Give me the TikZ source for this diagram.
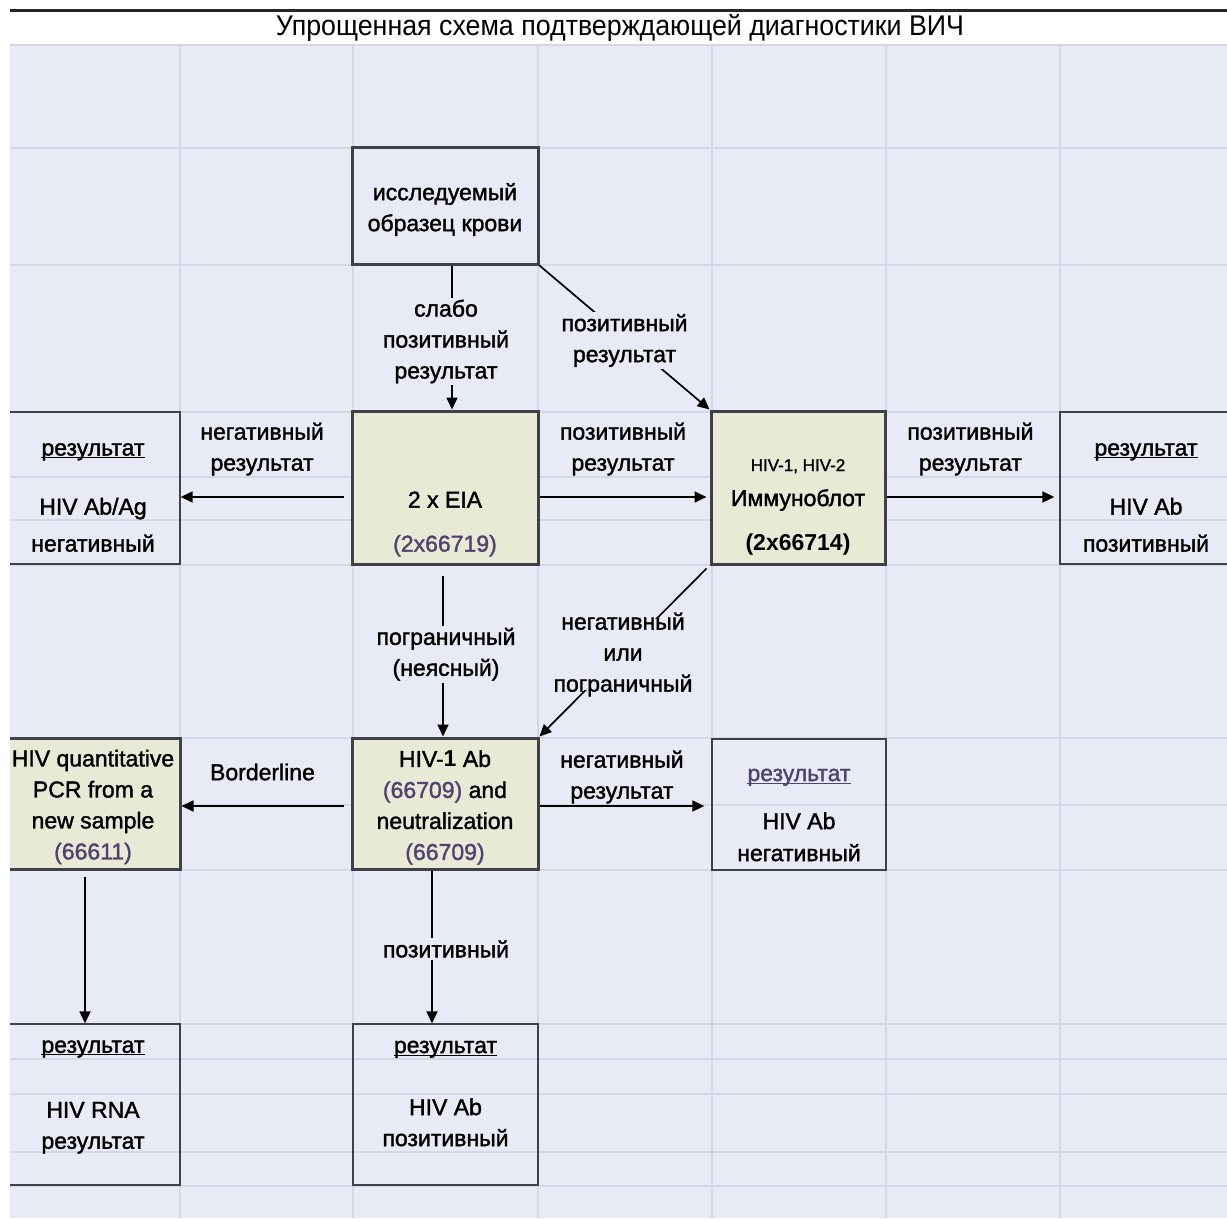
\documentclass[tikz,border=0pt]{standalone}
\usepackage{fontspec}
\setmainfont{Liberation Sans}[UprightFeatures={FakeBold=1.5}]
\newfontfamily\titlefont{Liberation Sans}[FakeStretch=0.94]
\usetikzlibrary{arrows.meta}

\definecolor{sheet}{RGB}{232,234,245}
\definecolor{gridc}{RGB}{211,216,232}
\definecolor{cream}{RGB}{233,234,213}
\definecolor{edge}{RGB}{64,64,72}
\definecolor{numc}{RGB}{82,66,112}

% underline that sits through the descenders, as the sheet draws it
\newcommand{\ulword}[1]{\leavevmode\setbox0=\hbox{#1}\rlap{\rule[-2.6pt]{\wd0}{1.1pt}}\box0}

\begin{document}
\begin{tikzpicture}[
  x=1pt, y=-1pt,
  every node/.style = {font=\fontsize{23}{31}\selectfont},
  start/.style      = {draw=edge, line width=3pt, fill=sheet, inner sep=0pt},
  test/.style       = {draw=edge, line width=3pt, fill=cream, inner sep=0pt},
  result/.style     = {draw=edge, line width=1.3pt, inner sep=0pt},
  txt/.style        = {align=center, inner sep=0pt},
  arr/.style        = {line width=1.7pt, -{Triangle[length=12pt,width=11pt]}},
  lbl/.style        = {align=center, inner sep=2pt},
  hide/.style       = {fill=sheet},
]
  \useasboundingbox (0,0) rectangle (1227,1220);

  \draw[line width=3pt, black!85] (10,11) -- (1227,11);
  \node (title) at (620,28) {\titlefont\fontsize{28.5}{30}\selectfont Упрощенная схема подтверждающей диагностики ВИЧ};

  \begin{scope}
    \clip (10,45) rectangle (1227,1218);
    \fill[sheet] (10,45) rectangle (1227,1218);
    \foreach \gx in {180,353,538,712,886,1060}
      \draw[gridc, line width=1.5pt] (\gx,45) -- (\gx,1218);
    \foreach \gy in {45,148,265,412,477,520,565,738,805,870,1024,1059,1094,1152,1186}
      \draw[gridc, line width=1.5pt] (10,\gy) -- (1227,\gy);

    % boxes
    \node[start, minimum width=186pt, minimum height=116pt] (sample) at (445,206) {};
    \node[test, minimum width=186pt, minimum height=153pt] (eia)   at (445,487.5) {};
    \node[test, minimum width=174pt, minimum height=153pt] (blot)  at (798,487.5) {};
    \node[result, minimum width=174pt, minimum height=152pt] (negAg) at (93,488) {};
    \node[result, minimum width=172pt, minimum height=152pt] (posAb) at (1146,488) {};
    \node[test, minimum width=186pt, minimum height=131pt] (hiv1)  at (445,803.5) {};
    \node[test, minimum width=174pt, minimum height=131pt] (pcr)   at (93,803.5) {};
    \node[result, minimum width=174pt, minimum height=131pt] (negAb)  at (799,804.5) {};
    \node[result, minimum width=174pt, minimum height=161pt] (rna)    at (93,1104.5) {};
    \node[result, minimum width=185pt, minimum height=161pt] (posAb2) at (445.5,1104.5) {};

    % texts of the cells
    \node[txt] (sampleTxt) at (445,209.5)  {исследуемый\\образец крови};
    \node[txt] (eiaTxt)    at (445,524)    {2 x EIA\\[13pt]{\color{numc}(2x66719)}};
    \node[txt] (blotTxt)   at (798,507)    {{\fontsize{17}{20}\selectfont HIV-1, HIV-2}\\[4pt]Иммуноблот\\[13pt]\textbf{(2x66714)}};
    \node[txt] (negAgTxt)  at (93,497.5)   {\ulword{результат}\\[28pt]HIV Ab/Ag\\[6pt]негативный};
    \node[txt] (posAbTxt)  at (1146,497.5) {\ulword{результат}\\[28pt]HIV Ab\\[6pt]позитивный};
    \node[txt] (hiv1Txt)   at (445,807.5)  {HIV-\textbf{1} Ab\\{\color{numc}(66709)} and\\neutralization\\{\color{numc}(66709)}};
    \node[txt] (pcrTxt)    at (93,807)     {HIV quantitative\\PCR from a\\new sample\\{\color{numc}(66611)}};
    \node[txt] (negAbTxt)  at (799,815)    {{\color{numc}\ulword{результат}}\\[17pt]HIV Ab\\[1pt]негативный};
    \node[txt] (rnaTxt)    at (93,1097)    {\ulword{результат}\\[34pt]HIV RNA\\результат};
    \node[txt] (posAb2Txt) at (445.5,1093.5) {\ulword{результат}\\[31pt]HIV Ab\\позитивный};

    % connectors
    \draw[arr] ([xshift=7pt]sample.south) -- node[lbl, hide, xshift=-6pt, yshift=-4pt] (weakLbl)
      {слабо\\позитивный\\результат} ([xshift=7pt]eia.north);
    \draw[arr] (sample.south east) -- node[lbl, hide, yshift=-3pt] (posLblA)
      {позитивный\\результат} (blot.north west);
    \draw[arr] ([xshift=-7pt,yshift=-9.5pt]eia.west) -- node[lbl, yshift=48pt] (negLblA)
      {негативный\\результат} ([yshift=-9pt]negAg.east);
    \draw[arr] ([yshift=-9.5pt]eia.east) -- node[lbl, yshift=48pt] (posLblB)
      {позитивный\\результат} ([xshift=-3pt,yshift=-9.5pt]blot.west);
    \draw[arr] ([yshift=-9.5pt]blot.east) -- node[lbl, yshift=48pt] (posLblC)
      {позитивный\\результат} ([xshift=-5pt,yshift=-9pt]posAb.west);
    \draw[arr] ([xshift=-2pt,yshift=-10pt]eia.south) -- node[lbl, hide, pos=0.47, xshift=3pt, yshift=-3pt] (bordLbl)
      {пограничный\\(неясный)} ([xshift=-2pt]hiv1.north);
    \draw[arr] ([xshift=-3pt,yshift=-3pt]blot.south west) -- node[lbl, hide, inner ysep=-6pt, yshift=-2pt] (negLblB)
      {негативный\\или\\пограничный} (hiv1.north east);
    \draw[arr] ([xshift=-7pt,yshift=-2.5pt]hiv1.west) -- node[lbl, yshift=34pt] (bordLblB)
      {Borderline} ([yshift=-2.5pt]pcr.east);
    \draw[arr] ([yshift=-2.5pt]hiv1.east) -- node[lbl, yshift=29pt] (negLblC)
      {негативный\\результат} ([xshift=-7pt,yshift=-1.5pt]negAb.west);
    \draw[arr] ([xshift=-13pt]hiv1.south) -- node[lbl, hide, xshift=14pt, yshift=-2pt] (posLblD)
      {позитивный} ([xshift=-13.5pt]posAb2.north);
    \draw[arr] ([xshift=-8pt,yshift=-6pt]pcr.south) -- ([xshift=-8pt]rna.north);
  \end{scope}
\end{tikzpicture}
\end{document}
